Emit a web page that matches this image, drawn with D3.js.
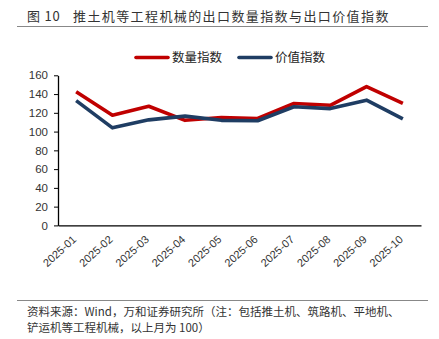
<!DOCTYPE html>
<html><head><meta charset="utf-8">
<script src="https://cdn.jsdelivr.net/npm/d3@7"></script>
<style>
body{margin:0;background:#fff;}
svg{display:block;font-family:"Liberation Sans","Noto Sans CJK SC",sans-serif;}
text{white-space:pre;}
</style></head>
<body>
<svg id="c" width="439" height="339"></svg>
<script>
const categories = ["2025-01","2025-02","2025-03","2025-04","2025-05","2025-06","2025-07","2025-08","2025-09","2025-10"];
const quantityIndex = [142.5,117.5,127,112,115,114,130,128,148,130];
const valueIndex = [133,104,112.5,116.5,112,111.5,126.5,124.5,133.5,113.5];
const yTicks = [0,20,40,60,80,100,120,140,160];
const seriesNames = ["数量指数","价值指数"];
const colors = ["#C00000","#1F3D63"];

const svg = d3.select("#c");
const cjk = '"Noto Sans CJK SC",sans-serif';

// title
const title = svg.append("text").attr("y",21).attr("font-family",cjk).attr("font-size",13)
  .attr("fill","#333");
title.append("tspan").attr("x",27).attr("letter-spacing",0.8).text("图 10");
title.append("tspan").attr("x",73).attr("letter-spacing",1.4).text("推土机等工程机械的出口数量指数与出口价值指数");
svg.append("line").attr("x1",17).attr("x2",428).attr("y1",26.5).attr("y2",26.5).attr("stroke","#888").attr("stroke-width",1.2);

const m = {left:58, right:421, top:75.3, bottom:225.4};
const x = d3.scaleBand().domain(categories).range([m.left,m.right]);
const y = d3.scaleLinear().domain([0,160]).range([m.bottom,m.top]);

// y axis
const ya = svg.append("g").attr("transform",`translate(${m.left},0)`)
  .call(d3.axisLeft(y).tickValues(yTicks).tickSize(4).tickSizeOuter(0).tickPadding(6));
ya.select(".domain").attr("stroke","#000").attr("stroke-width",1.3);
ya.selectAll(".tick line").attr("stroke","#000");
ya.selectAll(".tick text").attr("font-size",11.5).attr("fill","#333").attr("font-family","Liberation Sans, sans-serif");

// x axis
const xa = svg.append("g").attr("transform",`translate(0,${m.bottom})`)
  .call(d3.axisBottom(x).tickSize(0).tickSizeOuter(0).tickPadding(0));
xa.select(".domain").attr("stroke","#000").attr("stroke-width",1.3);
xa.selectAll(".tick text").attr("font-size",11).attr("fill","#333")
  .attr("text-anchor","end").attr("dy",0)
  .attr("transform","translate(1,15) rotate(-42)");

// lines
const line = d3.line().x((d,i)=>x(categories[i])+x.bandwidth()/2).y(d=>y(d));
[quantityIndex,valueIndex].forEach((s,k)=>{
  svg.append("path").datum(s).attr("d",line).attr("fill","none")
    .attr("stroke",colors[k]).attr("stroke-width",3.6).attr("stroke-linejoin","round");
});

// legend
const lg = [{x1:136,x2:168,tx:172},{x1:239,x2:271,tx:275}];
lg.forEach((l,k)=>{
  svg.append("line").attr("x1",l.x1).attr("x2",l.x2).attr("y1",57.5).attr("y2",57.5)
    .attr("stroke",colors[k]).attr("stroke-width",3.6).attr("stroke-linecap","round");
  svg.append("text").attr("x",l.tx).attr("y",62).attr("font-family",cjk).attr("font-size",12.5)
    .attr("fill","#222").text(seriesNames[k]);
});

// source
svg.append("line").attr("x1",17).attr("x2",428).attr("y1",300.5).attr("y2",300.5).attr("stroke","#888").attr("stroke-width",1.2);
svg.append("text").attr("x",27).attr("y",316).attr("font-family",cjk).attr("font-size",11.5).attr("fill","#333")
  .text("资料来源：Wind，万和证券研究所（注：包括推土机、筑路机、平地机、");
svg.append("text").attr("x",27).attr("y",332).attr("font-family",cjk).attr("font-size",11.5).attr("fill","#333")
  .text("铲运机等工程机械，以上月为 100）");
</script>
</body></html>
